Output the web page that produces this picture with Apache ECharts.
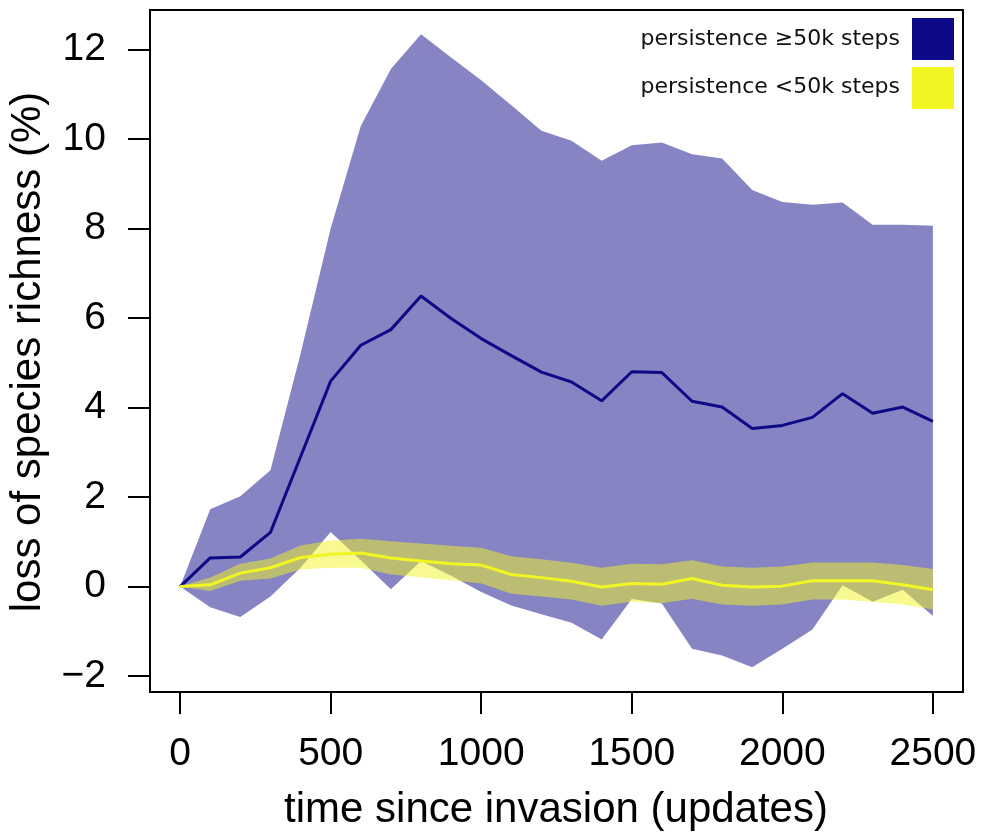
<!DOCTYPE html>
<html><head><meta charset="utf-8">
<script src="https://cdn.jsdelivr.net/npm/echarts@6/dist/echarts.min.js"></script>
<style>html,body{margin:0;padding:0;background:#fff}#c{width:994px;height:832px}</style>
</head><body><div id="c"></div>
<script>
// ---- data ----
const xValues = [0,100,200,300,400,500,600,700,800,900,1000,1100,1200,1300,1400,1500,1600,1700,1800,1900,2000,2100,2200,2300,2400,2500];
const blueUpper = [0,1.73,2.02,2.6,5.2,8.0,10.29,11.56,12.34,11.82,11.31,10.75,10.18,9.96,9.51,9.86,9.92,9.66,9.56,8.86,8.59,8.53,8.58,8.08,8.08,8.06];
const blueLower = [0,-0.46,-0.68,-0.22,0.42,1.22,0.59,-0.06,0.57,0.24,-0.12,-0.42,-0.62,-0.81,-1.18,-0.28,-0.38,-1.39,-1.54,-1.80,-1.39,-0.96,0.03,-0.34,-0.07,-0.66];
const blueMean  = [0,0.64,0.66,1.21,2.9,4.59,5.39,5.74,6.49,5.99,5.54,5.16,4.79,4.57,4.15,4.80,4.78,4.14,4.01,3.53,3.60,3.78,4.31,3.87,4.01,3.69];
const yellowUpper = [0,0.2,0.51,0.63,0.92,1.03,1.07,1.01,0.96,0.91,0.87,0.68,0.61,0.53,0.42,0.51,0.5,0.59,0.45,0.42,0.45,0.54,0.54,0.54,0.48,0.39];
const yellowMean  = [0,0.04,0.3,0.42,0.65,0.72,0.75,0.64,0.57,0.51,0.48,0.27,0.2,0.12,-0.01,0.07,0.05,0.18,0.03,-0.01,0.01,0.13,0.13,0.13,0.04,-0.07];
const yellowLower = [0,-0.1,0.13,0.18,0.38,0.42,0.42,0.27,0.21,0.14,0.07,-0.16,-0.22,-0.29,-0.43,-0.34,-0.37,-0.27,-0.40,-0.43,-0.40,-0.29,-0.29,-0.34,-0.40,-0.51];
const xTicks = [0,500,1000,1500,2000,2500];
const yTicks = [-2,0,2,4,6,8,10,12];
const legendLabels = ['persistence \u226550k steps','persistence <50k steps'];
const xTitle = 'time since invasion (updates)';
const yTitle = 'loss of species richness (%)';

// ---- styles ----
const BLUE = 'rgb(14,10,135)';
const YELLOW = 'rgb(241,246,35)';
const BLUE_FILL = 'rgba(14,10,135,0.5)';
const YELLOW_FILL = 'rgba(241,246,35,0.5)';
const AXIS_FONT = '"Liberation Sans", Arial, Helvetica, sans-serif';

const pairs = ys => xValues.map((x, i) => [x, ys[i]]);

function band(lo, hi, fill) {
  return {
    type: 'custom',
    data: xValues.map((x, i) => [x, lo[i], hi[i]]),
    encode: { x: 0, y: [1, 2] },
    silent: true,
    renderItem: (params, api) => {
      if (params.dataIndexInside !== 0) return null;
      const n = params.dataInsideLength;
      const top = [], bot = [];
      for (let i = 0; i < n; i++) {
        top.push(api.coord([api.value(0, i), api.value(2, i)]));
        bot.push(api.coord([api.value(0, i), api.value(1, i)]));
      }
      return { type: 'polygon', shape: { points: top.concat(bot.reverse()) }, style: { fill: fill } };
    }
  };
}

const chart = echarts.init(document.getElementById('c'), null, { renderer: 'canvas' });
chart.setOption({
  animation: false,
  backgroundColor: '#fff',
  grid: { left: 150, top: 10, right: 31, bottom: 140, containLabel: false, outerBoundsMode: 'none',
          show: true, borderColor: '#000', borderWidth: 2, backgroundColor: 'transparent', z: 10 },
  xAxis: {
    type: 'value', min: -100, max: 2600,
    axisLine: { show: false, onZero: false },
    splitLine: { show: false },
    axisTick: { show: true, length: 22, inside: false, customValues: xTicks, lineStyle: { color: '#000', width: 2 } },
    axisLabel: { customValues: xTicks, margin: 43, fontSize: 39, fontFamily: AXIS_FONT, color: '#000',
      formatter: v => String(v) }
  },
  yAxis: {
    type: 'value', min: -2.355, max: 12.88,
    axisLine: { show: false, onZero: false },
    splitLine: { show: false },
    axisTick: { show: true, length: 22, inside: false, customValues: yTicks, lineStyle: { color: '#000', width: 2 } },
    axisLabel: { customValues: yTicks, margin: 44, fontSize: 39, fontFamily: AXIS_FONT, color: '#000',
      formatter: v => String(v).replace('-', '\u2212') }
  },
  series: [
    band(blueLower, blueUpper, BLUE_FILL),
    band(yellowLower, yellowUpper, YELLOW_FILL),
    { type: 'line', data: pairs(blueMean), symbol: 'none', lineStyle: { color: BLUE, width: 3 }, silent: true },
    { type: 'line', data: pairs(yellowMean), symbol: 'none', lineStyle: { color: YELLOW, width: 3 }, silent: true }
  ],
  graphic: [
    { type: 'text', z: 100, x: 556, y: 810, style: { text: xTitle, align: 'center', verticalAlign: 'middle', fontSize: 42, fontFamily: AXIS_FONT, fill: '#000' } },
    { type: 'text', z: 100, x: 28, y: 352, rotation: Math.PI / 2, style: { text: yTitle, align: 'center', verticalAlign: 'middle', fontSize: 42, fontFamily: AXIS_FONT, fill: '#000' } },
    { type: 'text', z: 100, x: 900, y: 39, style: { text: legendLabels[0], align: 'right', verticalAlign: 'middle', fontSize: 22, fontFamily: '"DejaVu Sans", sans-serif', fill: '#111' } },
    { type: 'rect', z: 100, x: 912, y: 18, shape: { x: 0, y: 0, width: 42, height: 42 }, style: { fill: BLUE } },
    { type: 'text', z: 100, x: 900, y: 87, style: { text: legendLabels[1], align: 'right', verticalAlign: 'middle', fontSize: 22, fontFamily: '"DejaVu Sans", sans-serif', fill: '#111' } },
    { type: 'rect', z: 100, x: 912, y: 67, shape: { x: 0, y: 0, width: 42, height: 42 }, style: { fill: YELLOW } }
  ]
});
</script>
</body></html>
